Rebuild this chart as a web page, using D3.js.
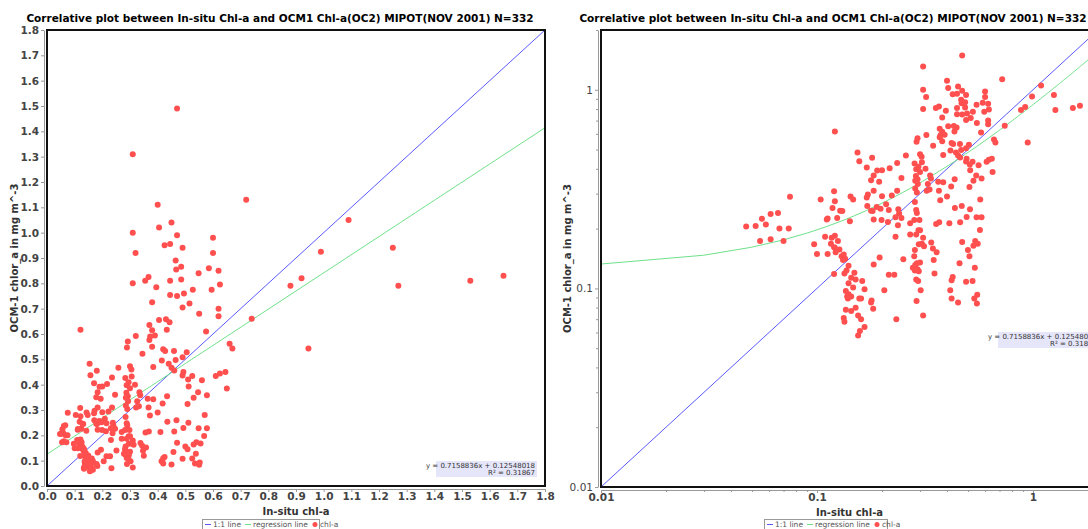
<!DOCTYPE html>
<html>
<head>
<meta charset="utf-8">
<script src="https://cdn.jsdelivr.net/npm/d3@7"></script>
<style>
  body { margin: 0; background: #fff; }
  text { font-family: "DejaVu Sans", sans-serif; }
</style>
</head>
<body>
<div id="chart"></div>
<script>
// texts
const titleText = "Correlative plot between In-situ Chl-a and OCM1 Chl-a(OC2) MIPOT(NOV 2001) N=332";
const xLabel = "In-situ chl-a";
const yLabel = "OCM-1 chlor_a in mg m^-3";
const legendItems = ["1:1 line", "regression line", "chl-a"];

// regression
const slope = 0.7158836, intercept = 0.12548018, rSquared = 0.31867;
const regText = "y = 0.7158836x + 0.12548018";
const r2Text = "R\u00b2 = 0.31867";

// tick labels
const linTicks = [0.0, 0.1, 0.2, 0.3, 0.4, 0.5, 0.6, 0.7, 0.8, 0.9, 1.0, 1.1, 1.2, 1.3, 1.4, 1.5, 1.6, 1.7, 1.8];
const logTicks = [0.01, 0.1, 1];

// in-situ chl-a vs OCM-1 chl-a
const chlPairs = [
  [0.31,1.31],[0.47,1.49],[0.40,1.11],[0.72,1.13],[0.405,1.02],[0.45,1.04],[0.47,0.99],[0.31,1.00],
  [0.60,0.98],[1.09,1.05],[0.425,0.95],[0.445,0.955],[0.49,0.94],[0.32,0.92],[0.60,0.92],[0.99,0.925],
  [1.25,0.94],[0.465,0.89],[0.467,0.855],[0.485,0.865],[0.585,0.86],[0.548,0.84],[0.62,0.85],[0.31,0.80],
  [0.355,0.81],[0.367,0.825],[0.395,0.785],[0.445,0.81],[0.485,0.815],[0.527,0.775],[0.595,0.775],[0.625,0.795],
  [0.88,0.79],[0.92,0.82],[1.27,0.79],[1.53,0.81],[1.65,0.83],[0.445,0.754],[0.47,0.75],[0.495,0.76],
  [0.515,0.72],[0.49,0.705],[0.38,0.725],[0.55,0.68],[0.62,0.70],[0.62,0.67],[0.74,0.66],[0.121,0.617],
  [0.37,0.636],[0.405,0.655],[0.43,0.658],[0.443,0.646],[0.433,0.617],[0.38,0.615],[0.39,0.594],[0.37,0.576],
  [0.373,0.59],[0.321,0.592],[0.575,0.61],[0.289,0.547],[0.292,0.57],[0.38,0.55],[0.345,0.522],[0.42,0.54],
  [0.427,0.533],[0.459,0.533],[0.49,0.508],[0.505,0.528],[0.465,0.497],[0.415,0.495],[0.66,0.562],[0.67,0.543],
  [0.945,0.543],[0.154,0.483],[0.30,0.473],[0.305,0.46],[0.258,0.467],[0.384,0.47],[0.44,0.483],[0.45,0.467],
  [0.46,0.456],[0.493,0.45],[0.49,0.436],[0.525,0.434],[0.56,0.417],[0.61,0.434],[0.625,0.444],[0.645,0.45],
  [0.65,0.385],[0.157,0.437],[0.18,0.455],[0.235,0.428],[0.283,0.426],[0.306,0.432],[0.295,0.41],[0.288,0.398],
  [0.318,0.40],[0.30,0.386],[0.17,0.406],[0.19,0.392],[0.20,0.393],[0.217,0.403],[0.51,0.42],[0.512,0.393],
  [0.546,0.37],[0.53,0.348],[0.183,0.37],[0.246,0.36],[0.287,0.368],[0.334,0.37],[0.337,0.358],[0.292,0.354],
  [0.285,0.348],[0.293,0.335],[0.178,0.35],[0.194,0.344],[0.326,0.335],[0.364,0.344],[0.384,0.342],[0.434,0.354],
  [0.578,0.358],[0.12,0.308],[0.143,0.29],[0.147,0.28],[0.172,0.297],[0.183,0.31],[0.20,0.291],[0.222,0.294],
  [0.235,0.31],[0.285,0.318],[0.29,0.304],[0.322,0.31],[0.332,0.315],[0.367,0.31],[0.418,0.326],[0.508,0.324],
  [0.40,0.29],[0.372,0.278],[0.57,0.28],[0.104,0.28],[0.121,0.275],[0.118,0.254],[0.128,0.246],[0.131,0.245],
  [0.124,0.226],[0.112,0.225],[0.111,0.222],[0.142,0.218],[0.17,0.287],[0.171,0.26],[0.178,0.246],[0.181,0.245],
  [0.197,0.252],[0.189,0.257],[0.209,0.265],[0.215,0.248],[0.183,0.222],[0.199,0.221],[0.213,0.216],[0.238,0.25],
  [0.24,0.238],[0.246,0.226],[0.231,0.228],[0.284,0.272],[0.288,0.248],[0.29,0.24],[0.282,0.221],[0.298,0.221],
  [0.435,0.254],[0.468,0.26],[0.511,0.25],[0.493,0.229],[0.548,0.228],[0.578,0.228],[0.356,0.211],[0.368,0.215],
  [0.41,0.213],[0.46,0.215],[0.237,0.208],[0.27,0.213],[0.295,0.196],[0.30,0.196],[0.288,0.187],[0.31,0.18],
  [0.27,0.187],[0.231,0.182],[0.568,0.197],[0.109,0.182],[0.117,0.18],[0.121,0.184],[0.125,0.173],[0.116,0.168],
  [0.12,0.161],[0.097,0.167],[0.10,0.149],[0.112,0.149],[0.121,0.16],[0.127,0.157],[0.122,0.152],[0.13,0.145],
  [0.133,0.148],[0.132,0.139],[0.135,0.141],[0.296,0.167],[0.306,0.168],[0.313,0.163],[0.338,0.17],[0.344,0.159],
  [0.358,0.152],[0.284,0.156],[0.282,0.145],[0.29,0.134],[0.285,0.131],[0.278,0.127],[0.292,0.125],[0.284,0.123],
  [0.30,0.135],[0.296,0.122],[0.251,0.14],[0.347,0.139],[0.47,0.171],[0.54,0.173],[0.555,0.168],[0.53,0.164],
  [0.50,0.156],[0.508,0.145],[0.457,0.134],[0.538,0.127],[0.195,0.143],[0.183,0.132],[0.14,0.13],[0.137,0.123],
  [0.134,0.119],[0.12,0.118],[0.149,0.12],[0.144,0.113],[0.151,0.111],[0.14,0.106],[0.147,0.101],[0.162,0.109],
  [0.166,0.099],[0.215,0.117],[0.228,0.117],[0.35,0.119],[0.425,0.114],[0.42,0.11],[0.49,0.108],[0.525,0.109],
  [0.288,0.111],[0.294,0.109],[0.302,0.098],[0.205,0.098],[0.414,0.098],[0.136,0.097],[0.14,0.0935],[0.138,0.091],
  [0.139,0.089],[0.144,0.091],[0.157,0.089],[0.16,0.089],[0.179,0.087],[0.178,0.085],[0.42,0.089],[0.45,0.085],
  [0.535,0.089],[0.552,0.093],[0.55,0.084],[0.289,0.0865],[0.182,0.079],[0.136,0.078],[0.144,0.077],[0.151,0.080],
  [0.155,0.073],[0.16,0.07],[0.133,0.071],[0.134,0.068],[0.31,0.073],[0.233,0.070],[0.166,0.064],[0.158,0.061],
  [0.155,0.058],[0.052,0.206],[0.0556,0.224],[0.061,0.237],[0.066,0.240],[0.075,0.289],[0.061,0.177],[0.070,0.173],
  [0.0545,0.173],[0.067,0.20],[0.074,0.20],[0.047,0.205],[0.058,0.21]
];

const svgW = 1088, svgH = 529;
const svg = d3.select("#chart").append("svg")
    .attr("width", svgW)
    .attr("height", svgH);

const blue = "#5a5aff", green = "#6ee08a", red = "#ff4f4f";

function drawPanel(p) {
    const g = svg.append("g").attr("transform", `translate(${p.left},${p.top})`);
    const x = p.x, y = p.y, w = p.w, h = p.h;

    // title, centred on the panel
    svg.append("text")
        .attr("x", p.titleX)
        .attr("y", 22)
        .attr("text-anchor", "middle")
        .style("font-size", "10.5px")
        .style("font-weight", "bold")
        .text(titleText);

    const clipId = "clip" + p.left;
    g.append("clipPath").attr("id", clipId)
      .append("rect").attr("width", w).attr("height", h);

    const plot = g.append("g").attr("clip-path", `url(#${clipId})`);

    // 1:1 line
    plot.append("line")
        .attr("x1", x(p.lo)).attr("y1", y(p.lo))
        .attr("x2", x(p.hi)).attr("y2", y(p.hi))
        .attr("stroke", blue).attr("stroke-width", 1);

    // regression line, sampled along x
    const xs = d3.range(101).map(i => p.lo + (p.hi - p.lo) * i / 100);
    plot.append("path")
        .datum(xs)
        .attr("fill", "none")
        .attr("stroke", green)
        .attr("stroke-width", 1)
        .attr("d", d3.line().x(d => x(d)).y(d => y(slope * d + intercept)));

    // points
    plot.selectAll("circle")
        .data(chlPairs)
        .join("circle")
          .attr("cx", d => x(d[0]))
          .attr("cy", d => y(d[1]))
          .attr("r", 3)
          .attr("fill", red);

    // annotation box
    const ann = g.append("g").attr("transform", `translate(${p.annX},${p.annY})`);
    ann.append("rect")
        .attr("x", -100).attr("y", 0)
        .attr("width", 101).attr("height", 16)
        .attr("fill", "#e6e6fa");
    ann.append("text").attr("x", -1).attr("y", 7)
        .attr("text-anchor", "end")
        .style("font-size", "7px").attr("fill", "#333")
        .text(regText);
    ann.append("text").attr("x", -1).attr("y", 14)
        .attr("text-anchor", "end")
        .style("font-size", "7px").attr("fill", "#333")
        .text(r2Text);

    // frame
    g.append("rect")
        .attr("width", w).attr("height", h)
        .attr("fill", "none")
        .attr("stroke", "#111").attr("stroke-width", 2);

    // axes
    const yAxis = g.append("g")
        .attr("transform", "translate(-3,0)")
        .call(d3.axisLeft(y).tickValues(p.ticks).tickFormat(p.fmt).tickSize(3).tickSizeOuter(0).tickPadding(2));
    const xAxis = g.append("g")
        .attr("transform", `translate(0,${h + 3})`)
        .call(d3.axisBottom(x).tickValues(p.ticks).tickFormat(p.fmt).tickSize(3).tickSizeOuter(0).tickPadding(1));

    if (p.minor) {
        g.append("g").attr("transform", "translate(-3,0)")
            .call(d3.axisLeft(y).tickValues(p.minor).tickFormat("").tickSize(2).tickSizeOuter(0))
            .select(".domain").remove();
        g.append("g").attr("transform", `translate(0,${h + 3})`)
            .call(d3.axisBottom(x).tickValues(p.minor.filter(v => v <= p.hi)).tickFormat("").tickSize(2).tickSizeOuter(0))
            .select(".domain").remove();
    }

    g.selectAll(".domain").attr("stroke", "#999");
    g.selectAll(".tick line").attr("stroke", "#999");
    xAxis.selectAll(".tick text")
        .style("font-size", "10.5px").style("font-weight", "bold").attr("fill", "#444");
    yAxis.selectAll(".tick text")
        .style("font-size", "10.5px").style("font-weight", p.yBold ? "bold" : "normal").attr("fill", "#444");

    // axis labels
    g.append("text")
        .attr("x", w / 2).attr("y", h + 29)
        .attr("text-anchor", "middle")
        .style("font-size", "10px").style("font-weight", "bold").attr("fill", "#333")
        .text(xLabel);
    g.append("text")
        .attr("transform", `translate(${p.yLabX},${h / 2}) rotate(-90)`)
        .attr("text-anchor", "middle")
        .style("font-size", "10px").style("font-weight", "bold").attr("fill", "#333")
        .text(yLabel);

    // legend
    const lg = svg.append("g").attr("transform", `translate(${p.legX},519)`);
    lg.append("rect").attr("x", 0.5).attr("y", 0.5).attr("width", p.legW).attr("height", 12)
        .attr("fill", "#fff").attr("stroke", "#999");
    let cx = 3;
    const itemColors = [blue, green, red];
    legendItems.forEach((label, i) => {
        if (i < 2) {
            lg.append("line").attr("x1", cx).attr("x2", cx + 6).attr("y1", 5.5).attr("y2", 5.5)
                .attr("stroke", itemColors[i]).attr("stroke-width", 1);
        } else {
            lg.append("circle").attr("cx", cx + 3).attr("cy", 5.5).attr("r", 2.5).attr("fill", red);
        }
        const t = lg.append("text").attr("x", cx + 8).attr("y", 8)
            .style("font-size", "7.5px").attr("fill", "#555").text(label);
        cx += 8 + t.node().getComputedTextLength() + 4;
    });
}

// left panel : linear scales
const leftW = 498, leftH = 456;
drawPanel({
    left: 47, top: 30, w: leftW, h: leftH,
    x: d3.scaleLinear().domain([0, 1.8]).range([0, leftW]),
    y: d3.scaleLinear().domain([0, 1.8]).range([leftH, 0]),
    lo: 0, hi: 1.8,
    ticks: linTicks, fmt: d3.format(".1f"), yBold: true,
    titleX: 280, yLabX: -29,
    annX: 489, annY: 431,
    legX: 202, legW: 117
});

// right panel : log scales
const rightW = 497, rightH = 457;
const minorTicks = [];
[0.01, 0.1, 1].forEach(dec => d3.range(2, 10).forEach(k => {
    const v = +(k * dec).toPrecision(2);
    if (v <= 2) minorTicks.push(v);
}));
drawPanel({
    left: 601, top: 30, w: rightW, h: rightH,
    x: d3.scaleLog().domain([0.01, 2]).range([0, rightW]),
    y: d3.scaleLog().domain([0.01, 2]).range([rightH, 0]),
    lo: 0.01, hi: 2,
    ticks: logTicks, fmt: d => String(d), yBold: false,
    minor: minorTicks,
    titleX: 833, yLabX: -30,
    annX: 497, annY: 302,
    legX: 764, legW: 123
});
</script>
</body>
</html>
